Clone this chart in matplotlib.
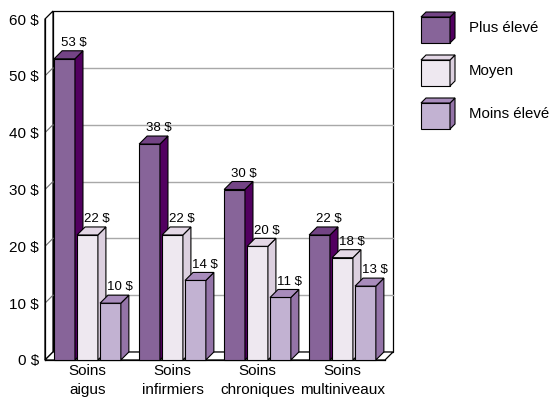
import matplotlib.pyplot as plt
from matplotlib.patches import Polygon
import numpy as np

plt.rcParams['font.family'] = ['Liberation Sans', 'DejaVu Sans']

categories = ["Soins\naigus", "Soins\ninfirmiers", "Soins\nchroniques", "Soins\nmultiniveaux"]
series_names = ["Plus élevé", "Moyen", "Moins élevé"]
plus_eleve = [53, 38, 30, 22]
moyen = [22, 22, 20, 18]
moins_eleve = [10, 14, 11, 13]
y_ticks = [0, 10, 20, 30, 40, 50, 60]
y_labels = [f"{v} $" for v in y_ticks]

values = [plus_eleve, moyen, moins_eleve]

# front / side / top face colours for each series
faces = [
    ("#876499", "#520060", "#734485"),
    ("#EEE8F0", "#DCD0DF", "#E4D8E6"),
    ("#C2B2D2", "#9474A8", "#A88CBC"),
]

W, H = 552, 400
fig = plt.figure(figsize=(W / 100, H / 100), dpi=100)

# main plot area (front plane)
left, right, bottom, top = 45, 385, 360, 19
ax = fig.add_axes([left / W, (H - bottom) / H, (right - left) / W, (bottom - top) / H])
ax.set_xlim(-0.5, 3.5)
ax.set_ylim(0, 60)

px_x = (right - left) / 4.0
px_y = (bottom - top) / 60.0
dx = 8 / px_x
dy = 8 / px_y

x = np.arange(len(categories))
offsets = [-0.27, 0.0, 0.27]
width = 0.245

# walls and floor
x0, x1 = -0.5, 3.5
back = Polygon([(x0 + dx, dy), (x1 + dx, dy), (x1 + dx, 60 + dy), (x0 + dx, 60 + dy)],
               closed=True, facecolor="white", edgecolor="black", lw=0.9,
               zorder=0.5, clip_on=False)
ax.add_patch(back)
side_wall = Polygon([(x0, 0), (x0, 60), (x0 + dx, 60 + dy), (x0 + dx, dy)],
                    closed=True, facecolor="white", edgecolor="black", lw=0.9,
                    zorder=0.6, clip_on=False)
ax.add_patch(side_wall)
floor = Polygon([(x0, 0), (x1, 0), (x1 + dx, dy), (x0 + dx, dy)],
                closed=True, facecolor="white", edgecolor="black", lw=0.9,
                zorder=0.6, clip_on=False)
ax.add_patch(floor)

for v in y_ticks[1:-1]:
    ax.plot([x0 + dx, x1 + dx], [v + dy, v + dy], color="#A8A8A8", lw=1.0,
            zorder=0.55, clip_on=False)
for v in y_ticks[1:-1]:
    ax.plot([x0, x0 + dx], [v, v + dy], color="#707070", lw=0.8,
            zorder=0.7, clip_on=False)

# bars with side and top faces
for j, vals in enumerate(values):
    front_c, side_c, top_c = faces[j]
    pos = x + offsets[j]
    ax.bar(pos, vals, width, color=front_c, edgecolor="black", lw=0.8,
           zorder=3 + j, clip_on=False)
    for xp, v in zip(pos, vals):
        xr = xp + width / 2
        xl = xp - width / 2
        ax.add_patch(Polygon([(xr, 0), (xr + dx, dy), (xr + dx, v + dy), (xr, v)],
                             closed=True, facecolor=side_c, edgecolor="black",
                             lw=0.8, zorder=3 + j, clip_on=False))
        ax.add_patch(Polygon([(xl, v), (xr, v), (xr + dx, v + dy), (xl + dx, v + dy)],
                             closed=True, facecolor=top_c, edgecolor="black",
                             lw=0.8, zorder=3 + j, clip_on=False))
        ax.text(xp + 0.11, v + dy + 0.3, f"{v} $", ha="center", va="bottom",
                fontsize=9.5, zorder=10)

ax.set_yticks(y_ticks)
ax.set_yticklabels(y_labels, fontsize=11)
ax.set_xticks(x)
ax.set_xticklabels(categories, fontsize=11, linespacing=1.4)
ax.tick_params(axis="both", length=0)
ax.tick_params(axis="y", pad=4.5)
ax.tick_params(axis="x", pad=3)
for s in ["top", "right"]:
    ax.spines[s].set_visible(False)
for s in ["left", "bottom"]:
    ax.spines[s].set_linewidth(0.9)
    ax.spines[s].set_zorder(0.8)
ax.patch.set_alpha(0)

# legend with little cubes
lg = fig.add_axes([0, 0, 1, 1])
lg.set_xlim(0, W)
lg.set_ylim(H, 0)
lg.axis("off")
lg.patch.set_alpha(0)
cw, ch, d = 29, 26, 5
for j, name in enumerate(series_names):
    front_c, side_c, top_c = faces[j]
    fx, fy = 421, 17 + 43 * j
    lg.add_patch(Polygon([(fx, fy), (fx + cw, fy), (fx + cw, fy + ch), (fx, fy + ch)],
                         closed=True, facecolor=front_c, edgecolor="black", lw=0.8))
    lg.add_patch(Polygon([(fx + cw, fy), (fx + cw + d, fy - d), (fx + cw + d, fy + ch - d), (fx + cw, fy + ch)],
                         closed=True, facecolor=side_c, edgecolor="black", lw=0.8))
    lg.add_patch(Polygon([(fx, fy), (fx + cw, fy), (fx + cw + d, fy - d), (fx + d, fy - d)],
                         closed=True, facecolor=top_c, edgecolor="black", lw=0.8))
    lg.text(469, fy + ch / 2 - 2, name, ha="left", va="center", fontsize=10.8)

fig.savefig("out.png", dpi=100)
